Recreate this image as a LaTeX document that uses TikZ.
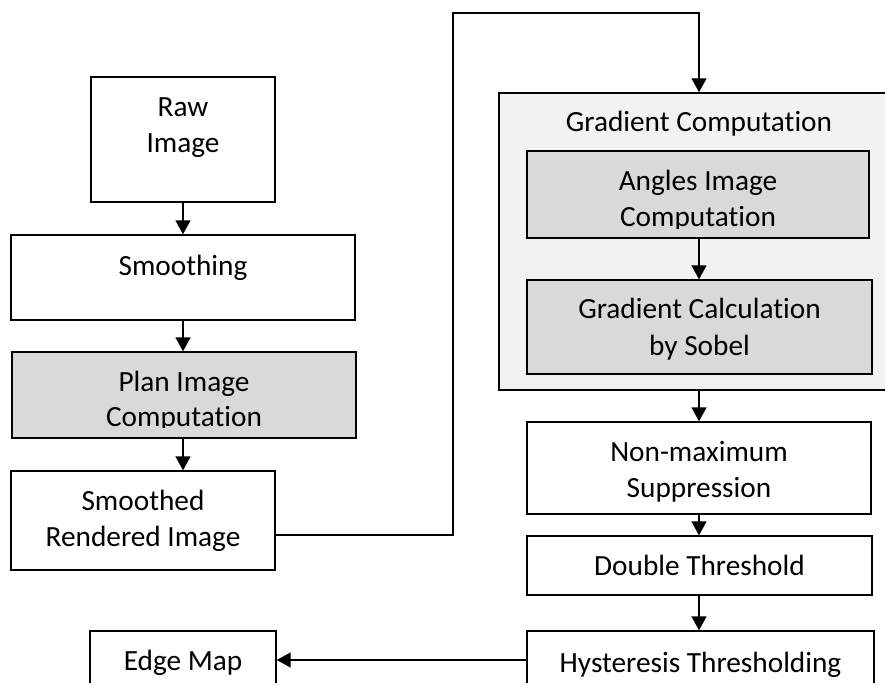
\documentclass[tikz,border=0pt]{standalone}
\usepackage{fontspec}
\setmainfont{Carlito}[RawFeature={-liga}]
\usetikzlibrary{arrows.meta}
\definecolor{stepgrey}{HTML}{D9D9D9}
\definecolor{groupgrey}{HTML}{F2F2F2}
\tikzset{
  stepbox/.style={draw=black, line width=1.4pt, fill=white, rectangle, inner sep=0pt},
  shaded/.style={stepbox, fill=stepgrey},
  groupbox/.style={stepbox, fill=groupgrey},
  lbl/.style={anchor=base, inner sep=0pt, font=\fontsize{29.3}{35}\selectfont},
  arr/.style={line width=1.4pt, -{Triangle[length=14pt,width=15pt]}},
  wire/.style={line width=1.4pt}
}
\begin{document}
\begin{tikzpicture}[x=1pt,y=-1pt]
\useasboundingbox (0,0) rectangle (885,682);
\clip (0,0) rectangle (885,682);

% left column
\node[stepbox, minimum width=184pt, minimum height=125pt] (raw) at (183,139.5) {};
\node[lbl] (rawA) at (183,117) {Raw};
\node[lbl] (rawB) at (183,152) {Image};

\node[stepbox, minimum width=344pt, minimum height=85pt] (smooth) at (183,277.5) {};
\node[lbl] (smoothT) at (183,275) {Smoothing};

\node[shaded, minimum width=344pt, minimum height=86pt] (plan) at (184,395) {};
\node[lbl] (planA) at (184,391) {Plan Image};
\begin{scope}
  \clip (13,353) rectangle (355,427);
  \node[lbl] (planB) at (184,426) {Computation};
\end{scope}

\node[stepbox, minimum width=264pt, minimum height=99pt] (smr) at (143,520.5) {};
\node[lbl] (smrA) at (143,510) {Smoothed};
\node[lbl] (smrB) at (143,546) {Rendered Image};

\node[stepbox, minimum width=186pt, minimum height=58pt] (edge) at (183,660) {};
\node[lbl] (edgeT) at (183,670) {Edge Map};

% right column
\node[groupbox, minimum width=400pt, minimum height=297pt] (grad) at (699,241.5) {};
\node[lbl] (gradT) at (699,131.5) {Gradient Computation};

\node[shaded, minimum width=342pt, minimum height=87pt] (ang) at (698,194.5) {};
\node[lbl] (angA) at (698,190) {Angles Image};
\begin{scope}
  \clip (528,152) rectangle (868,228.5);
  \node[lbl] (angB) at (698,226) {Computation};
\end{scope}

\node[shaded, minimum width=345pt, minimum height=94pt] (sob) at (699.5,327) {};
\node[lbl] (sobA) at (699.5,318) {Gradient Calculation};
\node[lbl] (sobB) at (699.5,355) {by Sobel};

\node[stepbox, minimum width=344pt, minimum height=92pt] (nms) at (699,468) {};
\node[lbl] (nmsA) at (699,461) {Non-maximum};
\node[lbl] (nmsB) at (699,497) {Suppression};

\node[stepbox, minimum width=345pt, minimum height=59pt] (dbl) at (699.5,565.5) {};
\node[lbl] (dblT) at (699.5,575) {Double Threshold};

\node[stepbox, minimum width=347pt, minimum height=58pt] (hys) at (700.5,660) {};
\node[lbl] (hysT) at (700.5,672) {Hysteresis Thresholding};

% connectors
\coordinate (up1) at (453,535);
\coordinate (up2) at (453,13);
\coordinate (up3) at (699,13);

\draw[arr] (raw.south) -- (smooth.north);
\draw[arr] (smooth.south) -- (plan.north -| smooth.south);
\draw[arr] (plan.south -| raw.south) -- (smr.north -| raw.south);
\draw[arr] (smr.east |- up1) -- (up1) -- (up2) -- (up3) -- (grad.north);
\draw[arr] (ang.south -| up3) -- (sob.north -| up3);
\draw[arr] (grad.south) -- (nms.north -| grad.south);
\draw[arr] (nms.south -| up3) -- (dbl.north -| up3);
\draw[arr] (dbl.south -| up3) -- (hys.north -| up3);
\draw[arr] (hys.west) -- (edge.east);
\end{tikzpicture}
\end{document}
